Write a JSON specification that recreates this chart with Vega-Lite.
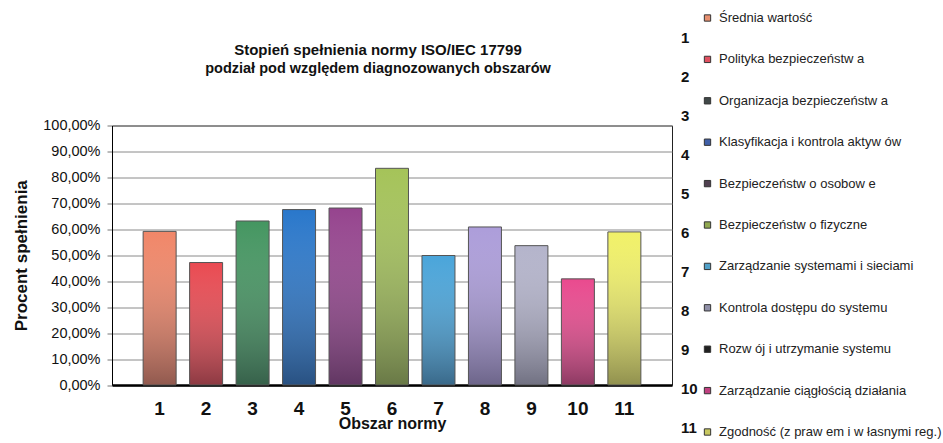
{
  "$schema": "https://vega.github.io/schema/vega-lite/v6.json",
  "autosize": "none",
  "width": 560,
  "height": 259.5,
  "padding": {"left": 112, "top": 125.5, "right": 271, "bottom": 58},
  "background": "white",
  "title": {
    "text": "Stopień spełnienia normy ISO/IEC 17799",
    "subtitle": "podział pod względem diagnozowanych obszarów",
    "anchor": "middle",
    "frame": "group",
    "dx": -14,
    "offset": -64,
    "font": "Liberation Sans",
    "fontSize": 15,
    "fontWeight": "bold",
    "color": "#111",
    "subtitleFont": "Liberation Sans",
    "subtitleFontSize": 14.5,
    "subtitleFontWeight": "bold",
    "subtitleColor": "#111",
    "subtitlePadding": 4
  },
  "data": {
    "values": [
      {"num": 1, "name": "Średnia wartość", "value": 0.592},
      {"num": 2, "name": "Polityka bezpieczeństw a", "value": 0.472},
      {"num": 3, "name": "Organizacja bezpieczeństw a", "value": 0.632},
      {"num": 4, "name": "Klasyfikacja i kontrola aktyw ów", "value": 0.676},
      {"num": 5, "name": "Bezpieczeństw o osobow e", "value": 0.682},
      {"num": 6, "name": "Bezpieczeństw o fizyczne", "value": 0.835},
      {"num": 7, "name": "Zarządzanie systemami i sieciami", "value": 0.499},
      {"num": 8, "name": "Kontrola dostępu do systemu", "value": 0.609},
      {"num": 9, "name": "Rozw ój i utrzymanie systemu", "value": 0.537},
      {"num": 10, "name": "Zarządzanie ciągłością działania", "value": 0.409},
      {"num": 11, "name": "Zgodność (z praw em i w łasnymi reg.)", "value": 0.590}
    ]
  },
  "encoding": {
    "x": {
      "field": "num",
      "type": "ordinal",
      "scale": {"paddingInner": 0.29, "paddingOuter": 0.67},
      "axis": {
        "title": "Obszar normy",
        "labelAngle": 0,
        "labelFont": "Liberation Sans",
        "labelFontSize": 19,
        "labelFontWeight": "bold",
        "labelColor": "#111",
        "labelPadding": 14,
        "ticks": false,
        "domainColor": "#000",
        "domainWidth": 2.5,
        "titleFont": "Liberation Sans",
        "titleFontSize": 16,
        "titleFontWeight": "bold",
        "titleColor": "#111",
        "titlePadding": -3
      }
    },
    "y": {
      "field": "value",
      "type": "quantitative",
      "scale": {"domain": [0, 1]},
      "axis": {
        "title": "Procent spełnienia",
        "values": [0, 0.1, 0.2, 0.3, 0.4, 0.5, 0.6, 0.7, 0.8, 0.9, 1],
        "labelExpr": "replace(format(datum.value * 100, '.2f'), '.', ',') + '%'",
        "labelFont": "Liberation Sans",
        "labelFontSize": 14.5,
        "labelColor": "#111",
        "labelPadding": 7,
        "tickSize": 5,
        "tickColor": "#777",
        "domainColor": "#000",
        "gridColor": "#8a8a8a",
        "gridWidth": 1,
        "titleFont": "Liberation Sans",
        "titleFontSize": 17,
        "titleFontWeight": "bold",
        "titleColor": "#111",
        "titlePadding": 12
      }
    }
  },
  "layer": [
    {
      "mark": {"type": "bar"},
      "encoding": {
        "fill": {
          "field": "num",
          "type": "nominal",
          "legend": null,
          "scale": {
            "range": ["#f08060", "#e84048", "#3a9058", "#1e70c8", "#903a88", "#a0c050", "#40a0d8", "#a898d8", "#b0b0c8", "#e84088", "#f0f060"]
          }
        }
      }
    },
    {
      "mark": {
        "type": "bar",
        "stroke": "#555",
        "strokeWidth": 1,
        "color": {
          "gradient": "linear",
          "x1": 0, "y1": 0, "x2": 0, "y2": 1,
          "stops": [
            {"offset": 0, "color": "rgba(255,255,255,0.05)"},
            {"offset": 1, "color": "rgba(50,50,60,0.5)"}
          ]
        }
      },
      "encoding": {}
    },
    {
      "mark": {"type": "point", "filled": true, "opacity": 0},
      "encoding": {
        "color": {
          "field": "name",
          "type": "nominal",
          "scale": {
            "domain": ["Średnia wartość", "Polityka bezpieczeństw a", "Organizacja bezpieczeństw a", "Klasyfikacja i kontrola aktyw ów", "Bezpieczeństw o osobow e", "Bezpieczeństw o fizyczne", "Zarządzanie systemami i sieciami", "Kontrola dostępu do systemu", "Rozw ój i utrzymanie systemu", "Zarządzanie ciągłością działania", "Zgodność (z praw em i w łasnymi reg.)"],
            "range": ["#e89070", "#e05060", "#404848", "#4060a8", "#504050", "#90a850", "#50a0c8", "#9090a8", "#202020", "#c04080", "#c8c860"]
          },
          "legend": {
            "orient": "none",
            "legendX": 589,
            "legendY": -114,
            "title": null,
            "padding": 0,
            "symbolType": "square",
            "symbolSize": 40,
            "symbolOpacity": 1,
            "symbolStrokeColor": "#333",
            "symbolStrokeWidth": 1,
            "labelFont": "Liberation Sans",
            "labelFontSize": 13,
            "labelColor": "#222",
            "labelOffset": 5,
            "labelLimit": 300,
            "rowPadding": 27.4
          }
        },
        "shape": {
          "field": "num",
          "type": "nominal",
          "scale": {"range": ["square"]},
          "legend": {
            "orient": "none",
            "legendX": 554,
            "legendY": -95,
            "title": null,
            "padding": 0,
            "symbolSize": 1,
            "symbolOpacity": 0,
            "symbolStrokeWidth": 0,
            "labelFont": "Liberation Sans",
            "labelFontSize": 15,
            "labelFontWeight": "bold",
            "labelColor": "#111",
            "labelOffset": 0,
            "rowPadding": 23
          }
        }
      }
    }
  ],
  "config": {
    "view": {"stroke": "#222", "strokeWidth": 1},
    "font": "Liberation Sans"
  }
}
